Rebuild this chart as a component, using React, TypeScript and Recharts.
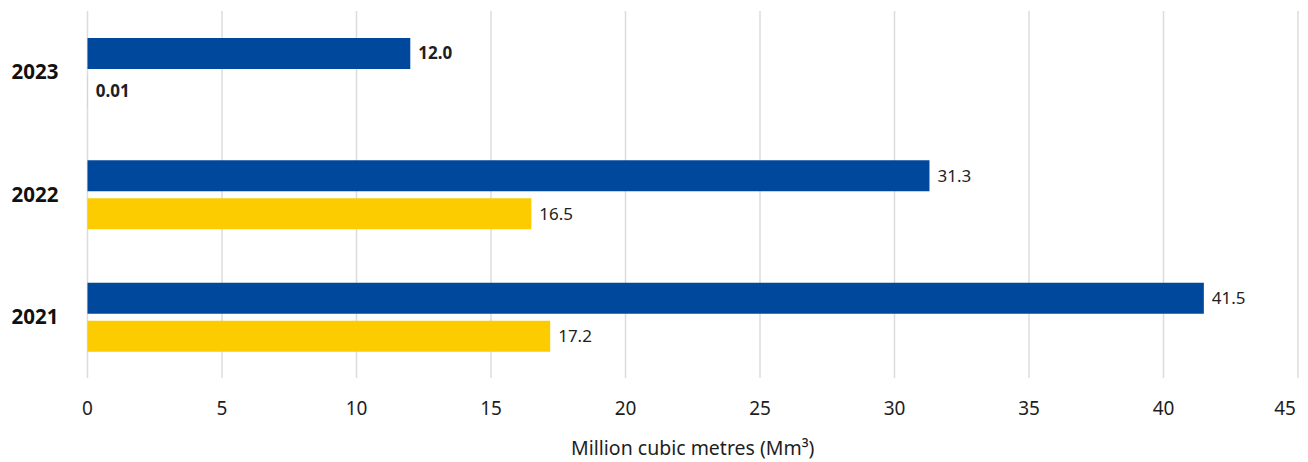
import { BarChart, Bar, XAxis, YAxis, CartesianGrid, LabelList } from "recharts";

const years = ["2023", "2022", "2021"];
const blueValues = [12.0, 31.3, 41.5];
const yellowValues = [0.01, 16.5, 17.2];
const xTicks = [0, 5, 10, 15, 20, 25, 30, 35, 40, 45];

const data = years.map((year, i) => ({ year, blue: blueValues[i], yellow: yellowValues[i] }));

const BLUE = "#00489b";
const YELLOW = "#fccc00";
const FONT = "'Noto Sans', 'Open Sans', sans-serif";

const fmt = (v: number) => (v < 0.1 ? v.toFixed(2) : v.toFixed(1));

// value label at the end of each bar; newest year in bold
const valueLabel = (props: any) => {
  const { x, y, width, height, value, index } = props;
  return (
    <text
      x={Number(x) + Number(width) + 8}
      y={Number(y) + Number(height) / 2}
      dy="0.35em"
      fontFamily={FONT}
      fontSize={17}
      fontWeight={index === 0 ? 700 : 400}
      fill="#1e1e1e"
    >
      {fmt(Number(value))}
    </text>
  );
};

// keep the last tick inside the chart edge
const XTick = (props: any) => {
  const { x, y, payload } = props;
  const last = payload.value === xTicks[xTicks.length - 1];
  return (
    <text
      x={last ? x - 2 : x}
      y={y}
      dy="0.71em"
      textAnchor={last ? "end" : "middle"}
      fontFamily={FONT}
      fontSize={19}
      fill="#1e1e1e"
    >
      {payload.value}
    </text>
  );
};

export default function App() {
  return (
    <div style={{ position: "absolute", left: 0, top: 0, width: 1308, height: 462, background: "#fff" }}>
      <BarChart
        width={1308}
        height={462}
        data={data}
        layout="vertical"
        margin={{ top: 11, right: 10, left: 0, bottom: 0 }}
        barSize={31}
        barGap={7}
      >
        <CartesianGrid horizontal={false} stroke="#dcdcdc" strokeWidth={1.5} />
        <XAxis
          type="number"
          domain={[0, 45]}
          ticks={xTicks}
          height={84}
          axisLine={false}
          tickLine={false}
          tickSize={0}
          tickMargin={24}
          tick={<XTick />}
          label={{
            value: "Million cubic metres (Mm³)",
            position: "insideBottom",
            offset: 7,
            fontFamily: FONT,
            fontSize: 19.5,
            fill: "#1e1e1e",
          }}
        />
        <YAxis
          type="category"
          dataKey="year"
          width={87.5}
          axisLine={false}
          tickLine={false}
          tickSize={0}
          tickMargin={29}
          tick={{ fontFamily: FONT, fontSize: 20.5, fontWeight: 700, fill: "#111" }}
        />
        <Bar dataKey="blue" fill={BLUE} isAnimationActive={false}>
          <LabelList dataKey="blue" content={valueLabel} />
        </Bar>
        <Bar dataKey="yellow" fill={YELLOW} isAnimationActive={false}>
          <LabelList dataKey="yellow" content={valueLabel} />
        </Bar>
      </BarChart>
    </div>
  );
}
